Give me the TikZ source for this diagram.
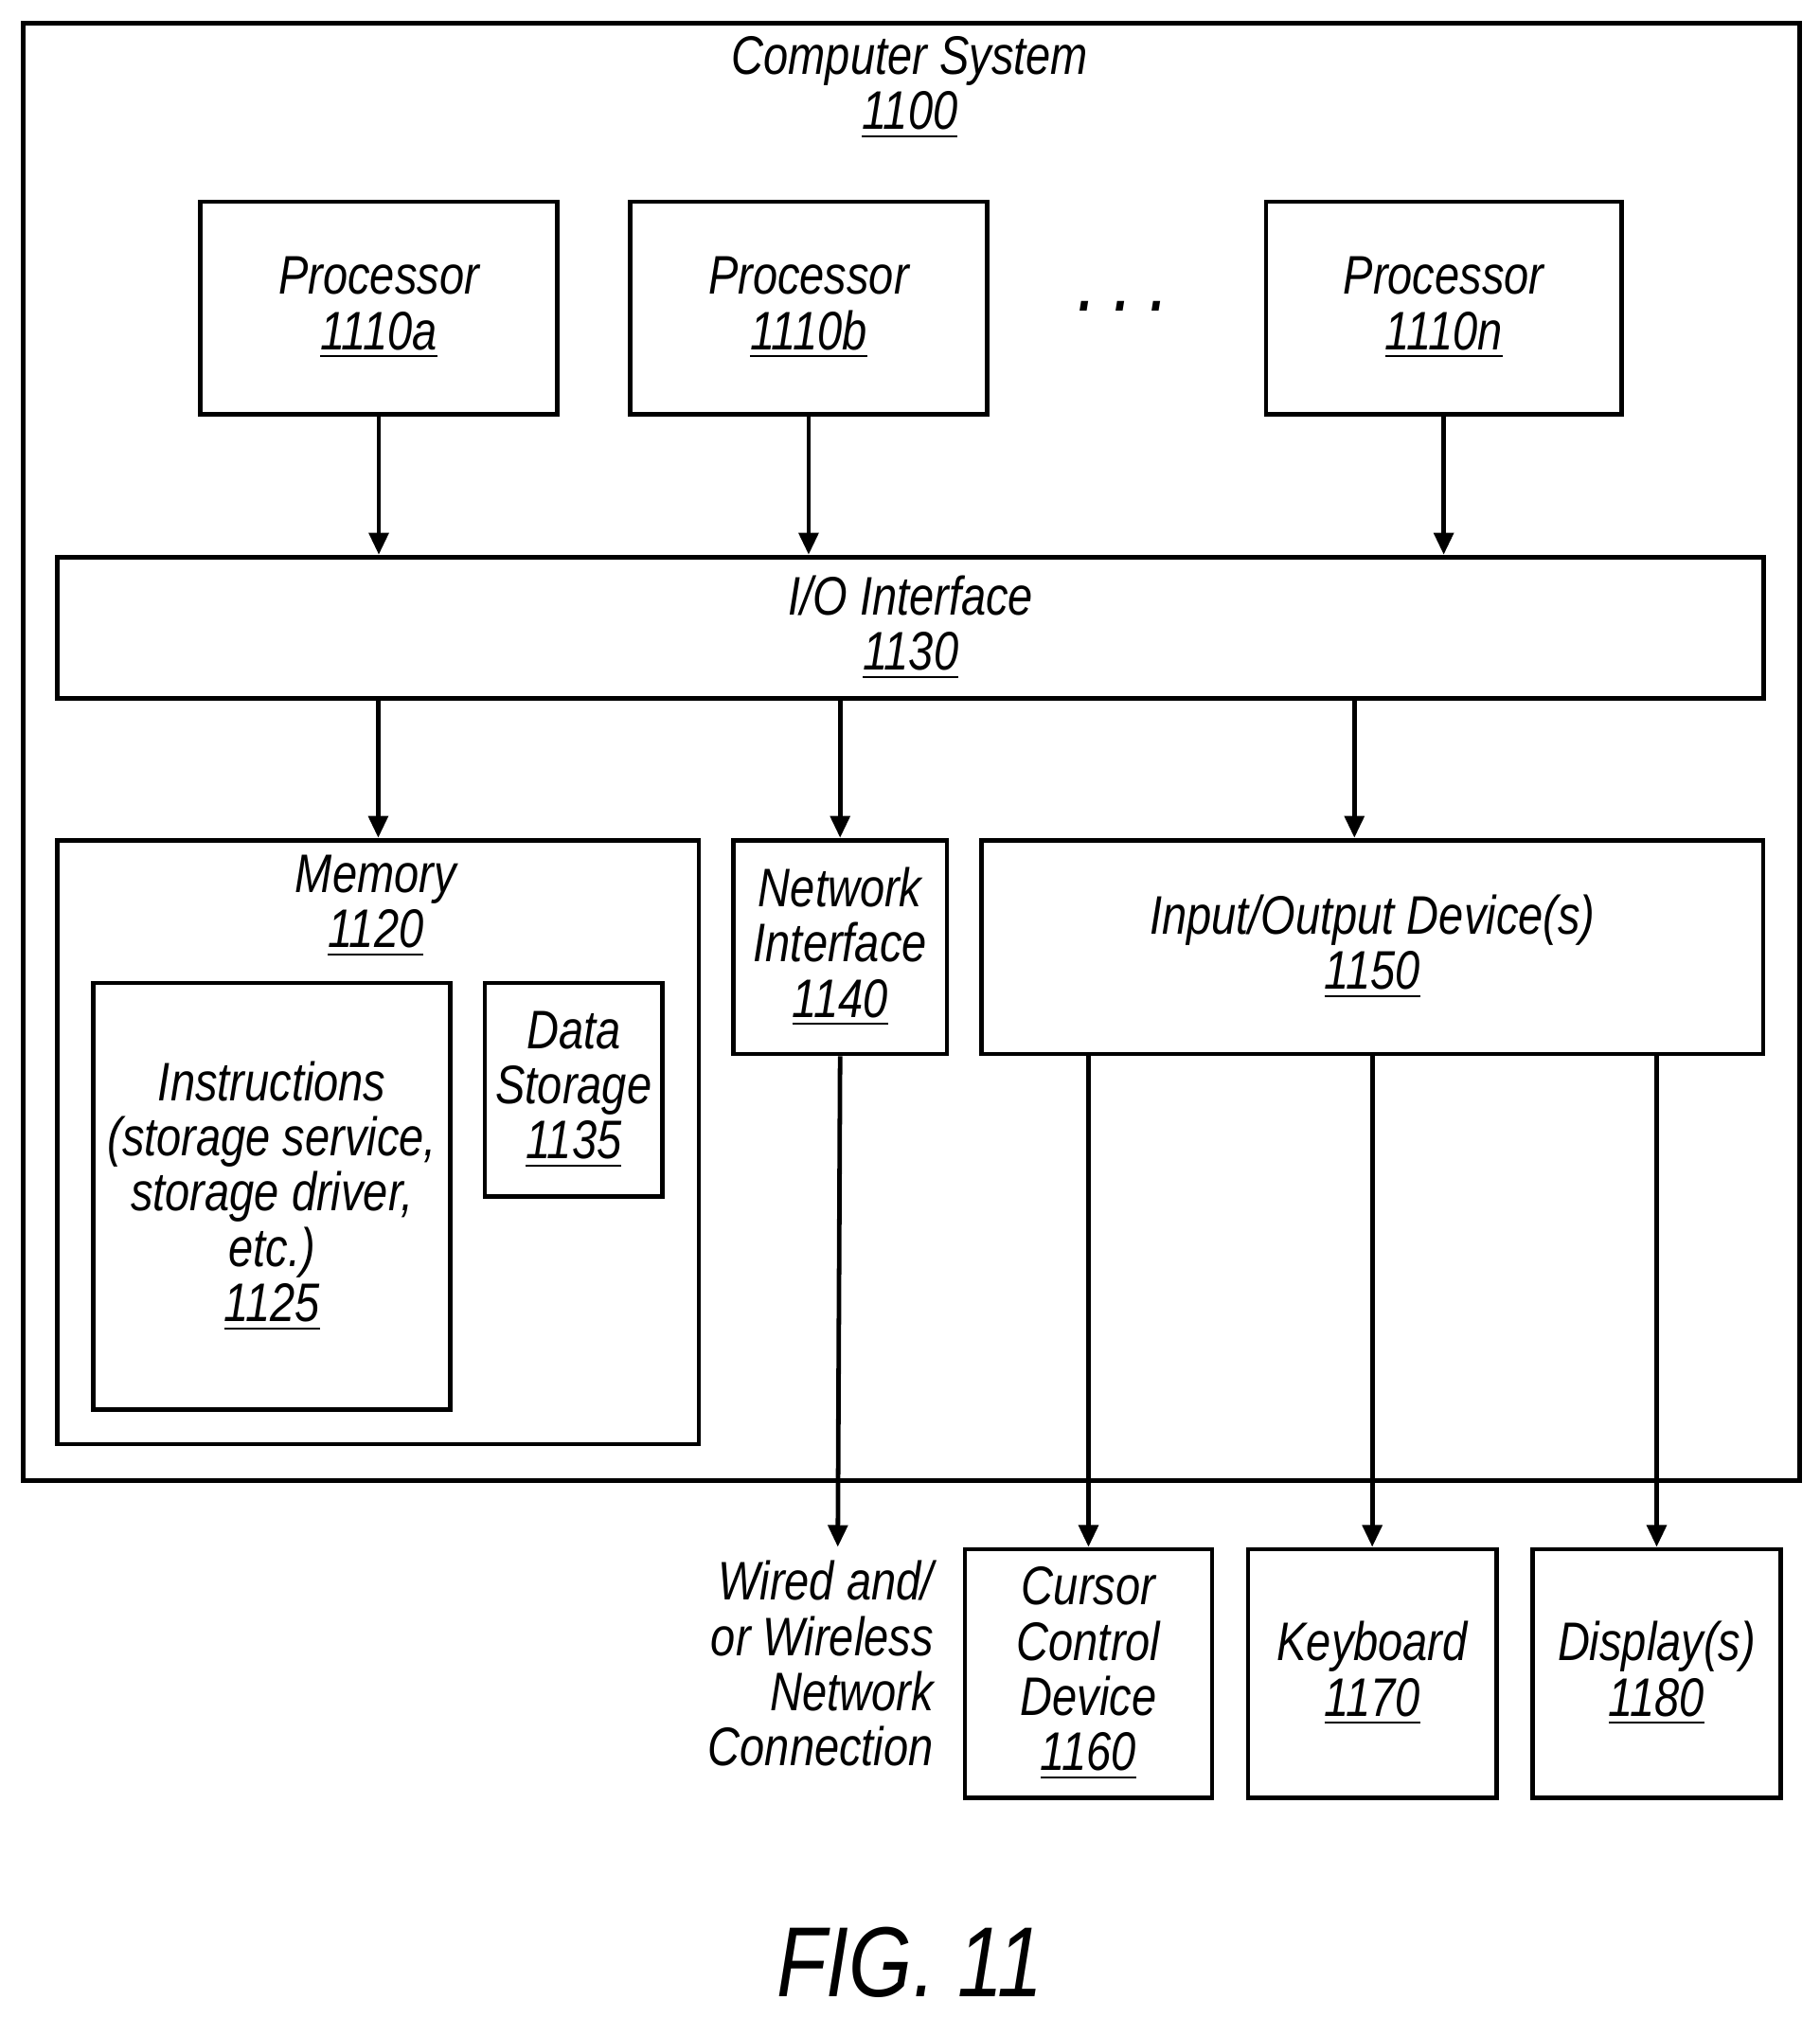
\documentclass[tikz,border=0pt]{standalone}
\usepackage{fontspec}
\setmainfont{Liberation Sans}[FakeStretch=0.82]
\usetikzlibrary{arrows.meta,positioning,calc}
\newcommand{\refnum}[1]{\underline{#1}}
\tikzset{
  box/.style={draw, line width=1pt, anchor=north west, inner sep=0pt, align=center},
  lbl/.style={inner sep=0pt, align=center},
  arr/.style={line width=1pt, -{Triangle[length=0.17cm,width=0.15cm]}}
}
\begin{document}
\begin{tikzpicture}[x=0.01cm, y=-0.01cm,
    every node/.style={font=\fontsize{12}{12.2}\selectfont\itshape}]
  \useasboundingbox (0,0) rectangle (1414,1568);
  % outer system box
  \node[box, minimum width=13.8cm, minimum height=11.32cm] (sys) at (16,16) {};
  \node[lbl] (systxt) at (707,68) {Computer System\\\refnum{1100}};
  % processors
  \node[box, minimum width=2.77cm, minimum height=1.65cm] (pa) at (154,155) {Processor\\\refnum{1110a}};
  \node[box, minimum width=2.77cm, minimum height=1.65cm] (pb) at (488,155) {Processor\\\refnum{1110b}};
  \node[box, minimum width=2.76cm, minimum height=1.65cm] (pn) at (982,155) {Processor\\\refnum{1110n}};
  \node[lbl] (dots) at (873,238) {\fontsize{20}{20}\selectfont .\,.\,.};
  % I/O interface
  \node[box, minimum width=13.25cm, minimum height=1.10cm] (io) at (43,431) {I/O Interface\\\refnum{1130}};
  \draw[arr] (pa.south) -- (pa.south |- io.north);
  \draw[arr] (pb.south) -- (pb.south |- io.north);
  \draw[arr] (pn.south) -- (pn.south |- io.north);
  % memory
  \node[box, minimum width=4.98cm, minimum height=4.69cm] (mem) at (43,651) {};
  \node[lbl] (memtxt) at (292,704) {Memory\\\refnum{1120}};
  \node[box, minimum width=2.77cm, minimum height=3.31cm] (ins) at (71,762)
    {Instructions\\(storage service,\\storage driver,\\etc.)\\\refnum{1125}};
  \node[box, minimum width=1.38cm, minimum height=1.66cm] (ds) at (375,762) {Data\\Storage\\\refnum{1135}};
  % network interface and devices
  \node[box, minimum width=1.66cm, minimum height=1.66cm] (net) at (568,651) {Network\\Interface\\\refnum{1140}};
  \node[box, minimum width=6.07cm, minimum height=1.66cm] (iod) at (761,651) {Input/Output Device(s)\\\refnum{1150}};
  \draw[arr] (io.south -| mem.north) -- (mem.north);
  \draw[arr] (io.south -| net.north) -- (net.north);
  \draw[arr] ([xshift=-0.14cm]iod.north |- io.south) -- ([xshift=-0.14cm]iod.north);
  % external devices
  \node[box, minimum width=1.92cm, minimum height=1.93cm] (cur) at (748,1202) {Cursor\\Control\\Device\\\refnum{1160}};
  \node[box, minimum width=1.93cm, minimum height=1.93cm] (kbd) at (968,1202) {Keyboard\\\refnum{1170}};
  \node[box, minimum width=1.93cm, minimum height=1.93cm] (disp) at (1189,1202) {Display(s)\\\refnum{1180}};
  \coordinate (wend) at (651,1202);
  \node[lbl, align=right, anchor=north east] (wired) at (726,1212) {Wired and/\\or Wireless\\Network\\Connection};
  \draw[arr] (net.south) -- (wend);
  \draw[arr] (cur.north |- iod.south) -- (cur.north);
  \draw[arr] (kbd.north |- iod.south) -- (kbd.north);
  \draw[arr] (disp.north |- iod.south) -- (disp.north);
  % figure label
  \node[lbl] (fig) at (707,1525) {\fontsize{22}{22}\selectfont\upshape\itshape FIG. 11};
\end{tikzpicture}
\end{document}
